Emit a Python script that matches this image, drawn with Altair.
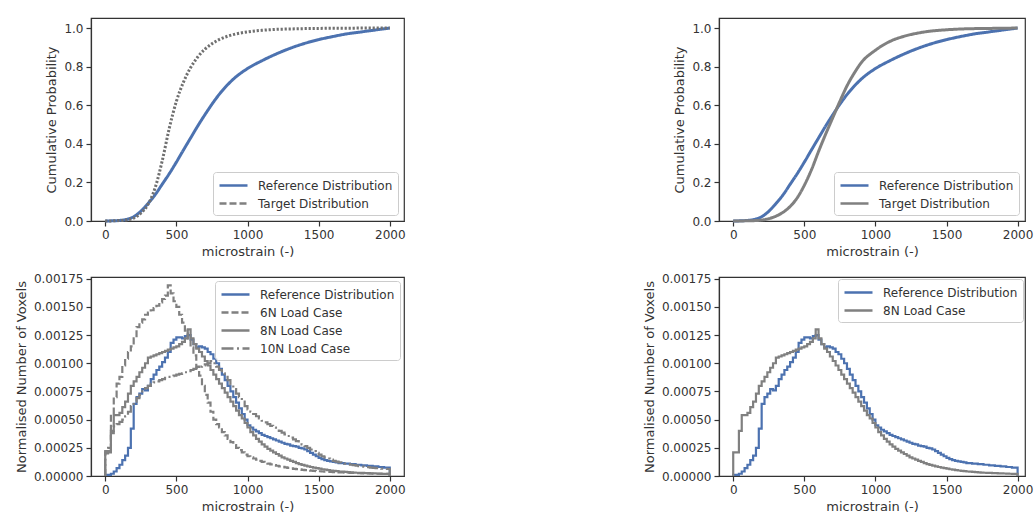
import altair as alt
import pandas as pd

# ---------------- data ----------------
BIN_LEFT = list(range(0, 2000, 20))          # histogram bin left edges (width 20)
HIST_SCALE = 1e-5                             # histogram values below are x 1e-5

REF_HIST = [1, 1, 2, 4, 7, 10, 14, 18, 25, 42,
            64, 70, 73, 77, 76, 80, 86, 90, 94, 97,
            101, 105, 110, 118, 121, 123, 123, 122, 124, 125,
            121, 117, 114, 115, 114, 113, 110, 108, 104, 100,
            95, 90, 85, 80, 75, 70, 65, 60, 55, 50,
            45, 43, 41, 39.5, 38, 36.5, 35.5, 34.5, 33.5, 32.5,
            31.5, 30.5, 29.5, 28.5, 28, 27, 26.5, 26, 25, 24.5,
            23.5, 22, 20.5, 19, 17.5, 16, 15, 14, 13.5, 13,
            12.5, 12, 11.5, 11.5, 11, 11, 10.5, 10.5, 10, 10,
            9.5, 9.5, 9, 9, 8.5, 8.5, 8, 8, 7.5, 7.5]

N6_HIST = [20, 25, 55, 70, 82, 88, 98, 104, 110, 115,
           122, 132, 136, 139, 143, 145, 147, 149, 151, 154,
           157, 160, 169, 162, 155, 150, 143, 136, 129, 122,
           114, 107, 97, 89, 80, 72, 65, 57, 50, 46,
           43, 39, 36, 33, 30, 27.5, 25, 23, 21, 19,
           17.5, 16.5, 15.5, 14.5, 13.5, 12.5, 11.8, 11, 10.3, 9.7,
           9.1, 8.6, 8.1, 7.6, 7.2, 6.8, 6.4, 6.1, 5.8, 5.5,
           5.2, 5.0, 4.8, 4.6, 4.4, 4.2, 4.0, 3.8, 3.7, 3.6,
           3.4, 3.3, 3.2, 3.1, 3.0, 2.9, 2.8, 2.7, 2.6, 2.5,
           2.4, 2.3, 2.3, 2.2, 2.1, 2.0, 2.0, 1.9, 1.8, 1.8]

N8_HIST = [21, 21, 40, 54, 54, 56, 61, 66, 73, 80,
           84, 88, 92, 96, 100, 105, 106, 107, 108, 109,
           110, 111, 112, 113, 114, 115, 117, 119, 122, 130,
           122, 117, 113, 110, 106, 102, 98, 94, 90, 86,
           82, 78, 74, 70, 66, 62, 58, 54, 51, 47,
           43, 39, 36, 33, 30.5, 28, 26, 24, 22.5, 21,
           19.5, 18, 16.5, 15.5, 14.5, 13.5, 12.5, 11.5, 10.5, 9.8,
           9.2, 8.6, 8, 7.5, 7, 6.5, 6, 5.6, 5.2, 4.9,
           4.6, 4.3, 4, 3.8, 3.6, 3.4, 3.2, 3.0, 2.9, 2.8,
           2.7, 2.6, 2.5, 2.4, 2.3, 2.2, 2.1, 2.0, 1.9, 1.8]

N10_HIST = [22, 22, 38, 44, 46, 48, 50, 53, 57, 62,
            66, 69, 72, 75, 78, 80, 82, 83, 84, 85,
            86, 87, 88, 88.5, 89, 90, 90.5, 91, 92, 93,
            94, 95, 96, 97, 98, 99, 100, 102, 100, 97,
            94, 91, 88, 85, 81, 77, 73, 70, 66, 62,
            59, 57, 55, 53, 51, 49, 47.5, 46, 44.5, 43,
            41.5, 40, 38.5, 37, 35.5, 34, 32.5, 31, 29.5, 28,
            26.5, 25, 23.5, 22, 20.5, 19, 17.5, 16.5, 15.5, 14.5,
            13.5, 12.8, 12.1, 11.5, 11, 10.5, 10, 9.6, 9.2, 8.8,
            8.4, 8.1, 7.8, 7.5, 7.2, 7, 6.8, 6.6, 6.4, 6.2]

CDF_X = [0, 100, 150, 200, 250, 300, 350, 400, 450, 500, 550, 600, 650, 700,
         750, 800, 850, 900, 1000, 1100, 1200, 1300, 1400, 1500, 1600, 1700,
         1800, 1900, 2000]
REF_CDF = [0.0, 0.003, 0.008, 0.022, 0.05, 0.09, 0.135, 0.19, 0.245, 0.305,
           0.368, 0.43, 0.492, 0.55, 0.605, 0.655, 0.698, 0.735, 0.79, 0.83,
           0.865, 0.895, 0.92, 0.94, 0.956, 0.97, 0.98, 0.99, 1.0]
TARGET_CDF_LEFT = [0.0, 0.002, 0.005, 0.015, 0.04, 0.085, 0.17, 0.31, 0.48, 0.62,
                   0.72, 0.795, 0.85, 0.89, 0.918, 0.94, 0.955, 0.966, 0.98, 0.988,
                   0.993, 0.995, 0.997, 0.998, 0.999, 0.999, 1.0, 1.0, 1.0]
TARGET_CDF_RIGHT = [0.0, 0.001, 0.002, 0.005, 0.012, 0.025, 0.045, 0.075, 0.12, 0.185,
                    0.265, 0.36, 0.45, 0.535, 0.62, 0.70, 0.765, 0.82, 0.885, 0.93,
                    0.957, 0.974, 0.985, 0.991, 0.995, 0.997, 0.998, 0.999, 1.0]

REF = "Reference Distribution"
TGT = "Target Distribution"
L6, L8, L10 = "6N Load Case", "8N Load Case", "10N Load Case"

BLUE = "#4C72B0"
GRAY = "#808080"
FONT = "DejaVu Sans"
X_END = 2000


def step_df(name, vals):
    xs = [0] + BIN_LEFT + [X_END, X_END]
    ys = [0.0] + [v * HIST_SCALE for v in vals] + [vals[-1] * HIST_SCALE, 0.0]
    return pd.DataFrame({"x": xs, "y": ys, "series": name, "idx": list(range(len(xs)))})


def cdf_df(name, vals):
    return pd.DataFrame({"x": CDF_X, "y": vals, "series": name})


def x_enc(dom):
    return alt.X("x:Q", scale=alt.Scale(domain=dom, nice=False, zero=False),
                 axis=alt.Axis(values=[0, 500, 1000, 1500, 2000], format="d",
                               title="microstrain (-)", labelFlush=False))


def y_cdf():
    return alt.Y("y:Q", scale=alt.Scale(domain=[0, 1.052], nice=False),
                 axis=alt.Axis(values=[0, 0.2, 0.4, 0.6, 0.8, 1.0], format=".1f",
                               title="Cumulative Probability", labelFlush=False))


def y_hist():
    return alt.Y("y:Q", scale=alt.Scale(domain=[0, 0.001765], nice=False),
                 axis=alt.Axis(values=[0, 0.00025, 0.0005, 0.00075, 0.001, 0.00125,
                                       0.0015, 0.00175],
                               format=".5f", title="Normalised Number of Voxels",
                               labelFlush=False))


def legend(orient, offset):
    return alt.Legend(title=None, orient=orient, offset=offset, symbolType="M-2,0L2,0",
                      symbolSize=196, symbolStrokeWidth=2.5, labelFontSize=12,
                      labelFont=FONT, labelColor="#333333", strokeColor="#cccccc",
                      fillColor="rgba(255,255,255,0.85)", cornerRadius=3, padding=5,
                      rowPadding=3, labelOffset=16, symbolOffset=7)


def color_enc(domain, rng, orient, offset=5):
    return alt.Color("series:N", scale=alt.Scale(domain=domain, range=rng),
                     legend=legend(orient, offset))


def dash_enc(domain, rng, orient, offset=5):
    return alt.StrokeDash("series:N", scale=alt.Scale(domain=domain, range=rng),
                          legend=legend(orient, offset))


LEFT_DOM = [-100, 2100]
RIGHT_DOM = [-100, 2052]
W_LEFT, W_RIGHT = 313, 306
H_TOP, H_BOT = 203, 199

# ---------------- top-left: CDF, dotted target ----------------
tl_dom = [REF, TGT]
tl_ref = alt.Chart(cdf_df(REF, REF_CDF)).mark_line(strokeWidth=3, interpolate="monotone").encode(
    x=x_enc(LEFT_DOM), y=y_cdf(),
    color=color_enc(tl_dom, [BLUE, GRAY], "bottom-right", 6),
    strokeDash=dash_enc(tl_dom, [[1, 0], [7, 3]], "bottom-right", 6),
)
tl_tgt = alt.Chart(cdf_df(TGT, TARGET_CDF_LEFT)).mark_line(
    strokeWidth=3, interpolate="monotone", color="#707070", strokeDash=[2.2, 1.8]
).encode(x=x_enc(LEFT_DOM), y=y_cdf())
tl = alt.layer(tl_ref, tl_tgt).properties(width=W_LEFT, height=H_TOP)

# ---------------- top-right: CDF, solid target ----------------
tr_df = pd.concat([cdf_df(REF, REF_CDF), cdf_df(TGT, TARGET_CDF_RIGHT)])
tr = alt.Chart(tr_df).mark_line(strokeWidth=3, interpolate="monotone").encode(
    x=x_enc(RIGHT_DOM), y=y_cdf(),
    color=color_enc(tl_dom, [BLUE, GRAY], "bottom-right", 6),
    strokeDash=dash_enc(tl_dom, [[1, 0], [1, 0]], "bottom-right", 6),
).properties(width=W_RIGHT, height=H_TOP)

# ---------------- bottom-left: histograms ----------------
bl_dom = [REF, L6, L8, L10]
bl_col = [BLUE, GRAY, GRAY, GRAY]
bl_dash = [[1, 0], [7, 3], [1, 0], [12, 3.5, 2, 3.5]]
bl_ref = alt.Chart(step_df(REF, REF_HIST)).mark_line(strokeWidth=2.2, interpolate="step-after").encode(
    x=x_enc(LEFT_DOM), y=y_hist(), order="idx:Q",
    color=color_enc(bl_dom, bl_col, "top-right", 4),
    strokeDash=dash_enc(bl_dom, bl_dash, "top-right", 4),
)
bl_gray_df = pd.concat([step_df(L6, N6_HIST), step_df(L8, N8_HIST), step_df(L10, N10_HIST)])
bl_gray = alt.Chart(bl_gray_df).mark_line(strokeWidth=2.2, interpolate="step-after").encode(
    x=x_enc(LEFT_DOM), y=y_hist(), order="idx:Q",
    color=color_enc(bl_dom, bl_col, "top-right", 4),
    strokeDash=dash_enc(bl_dom, bl_dash, "top-right", 4),
)
bl = alt.layer(bl_ref, bl_gray).properties(width=W_LEFT, height=H_BOT)

# ---------------- bottom-right: reference vs 8N ----------------
br_dom = [REF, L8]
br_ref = alt.Chart(step_df(REF, REF_HIST)).mark_line(strokeWidth=2.2, interpolate="step-after").encode(
    x=x_enc(RIGHT_DOM), y=y_hist(), order="idx:Q",
    color=color_enc(br_dom, [BLUE, GRAY], "top-right", 2),
    strokeDash=dash_enc(br_dom, [[1, 0], [1, 0]], "top-right", 2),
)
br_8 = alt.Chart(step_df(L8, N8_HIST)).mark_line(strokeWidth=2.2, interpolate="step-after").encode(
    x=x_enc(RIGHT_DOM), y=y_hist(), order="idx:Q",
    color=color_enc(br_dom, [BLUE, GRAY], "top-right", 2),
    strokeDash=dash_enc(br_dom, [[1, 0], [1, 0]], "top-right", 2),
)
br = alt.layer(br_ref, br_8).properties(width=W_RIGHT, height=H_BOT)

chart = alt.concat(tl, tr, bl, br, columns=2, spacing={"row": 13, "column": 236}).resolve_scale(
    color="independent", strokeDash="independent", x="independent", y="independent"
).properties(
    padding={"left": 14, "top": 17, "right": 0, "bottom": 0},
    background="white",
).configure_view(
    stroke="#333333", strokeWidth=1.2
).configure_axis(
    grid=False, labelFont=FONT, titleFont=FONT, labelFontSize=12, titleFontSize=13,
    titleFontWeight="normal", labelColor="#333333", titleColor="#333333",
    domainColor="#333333", tickColor="#333333", domainWidth=1.2, tickWidth=1.2,
    tickSize=5, labelPadding=3, titlePadding=5
)

chart.save("out.html", embed_options={"renderer": "svg", "actions": False})
